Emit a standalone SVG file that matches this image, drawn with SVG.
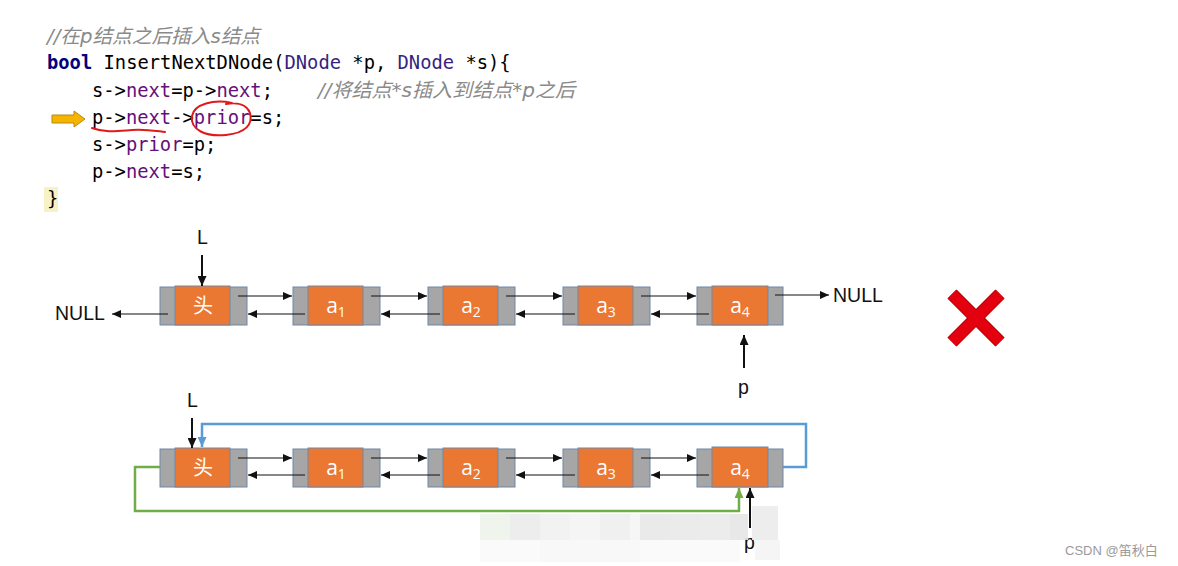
<svg xmlns="http://www.w3.org/2000/svg" width="1178" height="566" viewBox="0 0 1178 566">
<defs>
<style>
.code{font-family:"DejaVu Sans Mono","Liberation Mono",monospace;font-size:18.8px;fill:#000;}
.kw{font-weight:bold;fill:#000080;}
.ty{fill:#371f80;}
.fd{fill:#660e7a;}
.cm{font-family:"DejaVu Sans","Noto Sans CJK SC",sans-serif;font-style:italic;font-size:19.5px;fill:#8a8a8a;}
.lbl{font-family:"Liberation Sans","Noto Sans",sans-serif;font-size:19.5px;fill:#111;}
.gray{fill:#a6a6a6;stroke:#6f87a8;stroke-width:1;}
.org{fill:#ea7832;stroke:#6f87a8;stroke-width:1;}
.nt{font-family:"Open Sans","Liberation Sans","Noto Sans CJK SC",sans-serif;font-size:21px;fill:#fff;text-anchor:middle;}
.ntc{font-family:"Noto Sans CJK SC",sans-serif;font-size:20px;fill:#fff;text-anchor:middle;}
.ar{stroke:#111;stroke-width:1.2;fill:none;marker-end:url(#ah);}
.arb{stroke:#111;stroke-width:2;fill:none;marker-end:url(#ahb);}
.mz{stroke:none;}
</style>
<marker id="ah" markerUnits="userSpaceOnUse" markerWidth="9" markerHeight="8" refX="9" refY="4" orient="auto"><path d="M0,0 L9,4 L0,8 z" fill="#111"/></marker>
<marker id="ahb" markerUnits="userSpaceOnUse" markerWidth="10" markerHeight="9" refX="10" refY="4.5" orient="auto"><path d="M0,0 L10,4.5 L0,9 z" fill="#111"/></marker>
<marker id="ahblue" markerUnits="userSpaceOnUse" markerWidth="10" markerHeight="9" refX="10" refY="4.5" orient="auto"><path d="M0,0 L10,4.5 L0,9 z" fill="#5b9bd5"/></marker>
<marker id="ahgreen" markerUnits="userSpaceOnUse" markerWidth="10" markerHeight="9" refX="10" refY="4.5" orient="auto"><path d="M0,0 L10,4.5 L0,9 z" fill="#70ad47"/></marker>
</defs>
<rect width="1178" height="566" fill="#fff"/>

<g id="code">
<rect x="44" y="187" width="14" height="25" fill="#f7f1c6"/>
<text class="cm" x="47" y="43" textLength="213" lengthAdjust="spacingAndGlyphs">//在p结点之后插入s结点</text>
<text class="code" x="47" y="69"><tspan class="kw">bool</tspan> InsertNextDNode(<tspan class="ty">DNode</tspan> *p, <tspan class="ty">DNode</tspan> *s){</text>
<text class="code" x="92" y="97">s-&gt;<tspan class="fd">next</tspan>=p-&gt;<tspan class="fd">next</tspan>;</text>
<text class="cm" x="318" y="97" textLength="257" lengthAdjust="spacingAndGlyphs">//将结点*s插入到结点*p之后</text>
<text class="code" x="92" y="124">p-&gt;<tspan class="fd">next</tspan>-&gt;<tspan class="fd">prior</tspan>=s;</text>
<text class="code" x="92" y="151">s-&gt;<tspan class="fd">prior</tspan>=p;</text>
<text class="code" x="92" y="178">p-&gt;<tspan class="fd">next</tspan>=s;</text>
<text class="code" x="47" y="205">}</text>
<polygon points="52,115 74,115 74,111 85,119 74,127 74,123 52,123" fill="#f5b400" stroke="#b88a10" stroke-width="1"/>
<path d="M92,128 C105,133 118,131 132,130 C145,129 156,131 165,132" fill="none" stroke="#e01a1a" stroke-width="2" stroke-linecap="round"/>
<path d="M232,103 C214,99 194,104 192,116 C190,130 206,137 226,135 C246,133 253,124 250,113 C247,105 238,102 226,104" fill="none" stroke="#e01a1a" stroke-width="2" stroke-linecap="round"/>
</g>

<g id="top-row">
<g id="t-head"><rect class="gray" x="160" y="287" width="87" height="38"/><rect class="org" x="175" y="286" width="55" height="39"/><text class="ntc" x="203" y="313">头</text></g>
<g id="t-a1"><rect class="gray" x="293" y="287" width="87" height="38"/><rect class="org" x="308" y="286" width="55" height="39"/><text class="nt" x="336" y="313">a<tspan font-size="14" dy="4">1</tspan></text></g>
<g id="t-a2"><rect class="gray" x="428" y="287" width="87" height="38"/><rect class="org" x="443" y="286" width="55" height="39"/><text class="nt" x="471" y="313">a<tspan font-size="14" dy="4">2</tspan></text></g>
<g id="t-a3"><rect class="gray" x="563" y="287" width="87" height="38"/><rect class="org" x="578" y="286" width="55" height="39"/><text class="nt" x="606" y="313">a<tspan font-size="14" dy="4">3</tspan></text></g>
<g id="t-a4"><rect class="gray" x="697" y="287" width="86" height="38"/><rect class="org" x="712" y="286" width="56" height="39"/><text class="nt" x="740" y="313">a<tspan font-size="14" dy="4">4</tspan></text></g>
<text class="lbl" x="55" y="320">NULL</text>
<text class="lbl" x="833" y="302">NULL</text>
<text class="lbl" x="197" y="244">L</text>
<text class="lbl" x="738" y="394">p</text>
</g>

<g id="bottom-row">
<g id="b-head"><rect class="gray" x="160" y="449" width="87" height="38"/><rect class="org" x="175" y="448" width="55" height="39"/><text class="ntc" x="203" y="475">头</text></g>
<g id="b-a1"><rect class="gray" x="293" y="449" width="87" height="38"/><rect class="org" x="308" y="448" width="55" height="39"/><text class="nt" x="336" y="475">a<tspan font-size="14" dy="4">1</tspan></text></g>
<g id="b-a2"><rect class="gray" x="428" y="449" width="87" height="38"/><rect class="org" x="443" y="448" width="55" height="39"/><text class="nt" x="471" y="475">a<tspan font-size="14" dy="4">2</tspan></text></g>
<g id="b-a3"><rect class="gray" x="563" y="449" width="87" height="38"/><rect class="org" x="578" y="448" width="55" height="39"/><text class="nt" x="606" y="475">a<tspan font-size="14" dy="4">3</tspan></text></g>
<g id="b-a4"><rect class="gray" x="697" y="449" width="86" height="38"/><rect class="org" x="712" y="447" width="56" height="40"/><text class="nt" x="740" y="475">a<tspan font-size="14" dy="4">4</tspan></text></g>
<text class="lbl" x="187" y="407">L</text>
<text class="lbl" x="744" y="549">p</text>
</g>

<g id="connectors">
<line class="ar" x1="238" y1="296" x2="292" y2="296"/>
<line class="ar" x1="371" y1="296" x2="427" y2="296"/>
<line class="ar" x1="506" y1="296" x2="562" y2="296"/>
<line class="ar" x1="641" y1="296" x2="696" y2="296"/>
<line class="ar" x1="305" y1="314" x2="248" y2="314"/>
<line class="ar" x1="440" y1="314" x2="381" y2="314"/>
<line class="ar" x1="575" y1="314" x2="516" y2="314"/>
<line class="ar" x1="709" y1="314" x2="651" y2="314"/>
<line class="ar" x1="168" y1="314" x2="112" y2="314"/>
<line class="ar" x1="775" y1="295" x2="829" y2="295"/>
<line class="arb" x1="202" y1="255" x2="202" y2="286"/>
<line class="arb" x1="744" y1="368" x2="744" y2="335"/>

<line class="ar" x1="238" y1="458" x2="292" y2="458"/>
<line class="ar" x1="371" y1="458" x2="427" y2="458"/>
<line class="ar" x1="506" y1="458" x2="562" y2="458"/>
<line class="ar" x1="641" y1="458" x2="696" y2="458"/>
<line class="ar" x1="305" y1="475" x2="248" y2="475"/>
<line class="ar" x1="440" y1="475" x2="381" y2="475"/>
<line class="ar" x1="575" y1="475" x2="516" y2="475"/>
<line class="ar" x1="709" y1="475" x2="651" y2="475"/>
<line class="arb" x1="192" y1="418" x2="192" y2="448"/>
<line class="arb" x1="750" y1="528" x2="750" y2="488"/>
<polyline points="783,467 806,467 806,424 202,424 202,447" fill="none" stroke="#5b9bd5" stroke-width="2.5" marker-end="url(#ahblue)"/>
<polyline points="160,467 135,467 135,511 739,511 739,488" fill="none" stroke="#70ad47" stroke-width="2.5" marker-end="url(#ahgreen)"/>
</g>

<g id="cross">
<line x1="952" y1="294" x2="1000" y2="342" stroke="#b40000" stroke-width="13"/>
<line x1="1000" y1="294" x2="952" y2="342" stroke="#b40000" stroke-width="13"/>
<line x1="952" y1="294" x2="1000" y2="342" stroke="#e3000f" stroke-width="11"/>
<line x1="1000" y1="294" x2="952" y2="342" stroke="#e3000f" stroke-width="11"/>
</g>

<g id="mosaic" opacity="0.9">
<rect class="mz" x="480" y="514" width="30" height="26" fill="#eef3ec"/>
<rect class="mz" x="510" y="514" width="30" height="26" fill="#ececec"/>
<rect class="mz" x="540" y="514" width="30" height="26" fill="#f1f1f1"/>
<rect class="mz" x="570" y="514" width="30" height="26" fill="#f4f4f4"/>
<rect class="mz" x="600" y="514" width="30" height="26" fill="#efefef"/>
<rect class="mz" x="630" y="514" width="30" height="26" fill="#f6f6f6"/>
<rect class="mz" x="640" y="514" width="30" height="26" fill="#e8e8e8"/>
<rect class="mz" x="670" y="514" width="30" height="26" fill="#e9e9e9"/>
<rect class="mz" x="700" y="514" width="30" height="26" fill="#ebebeb"/>
<rect class="mz" x="730" y="514" width="18" height="26" fill="#e6e6e6"/>
<rect class="mz" x="752" y="506" width="26" height="34" fill="#ececec"/>
<rect class="mz" x="480" y="540" width="60" height="22" fill="#fafafa"/>
<rect class="mz" x="540" y="540" width="100" height="22" fill="#f8f8f8"/>
<rect class="mz" x="640" y="540" width="100" height="22" fill="#fafafa"/>
<rect class="mz" x="755" y="540" width="25" height="20" fill="#f4f4f4"/>
</g>

<text x="1065" y="555" font-family="Liberation Sans,Noto Sans CJK SC,sans-serif" font-size="13" fill="#9a9a9a">CSDN @笛秋白</text>
</svg>
